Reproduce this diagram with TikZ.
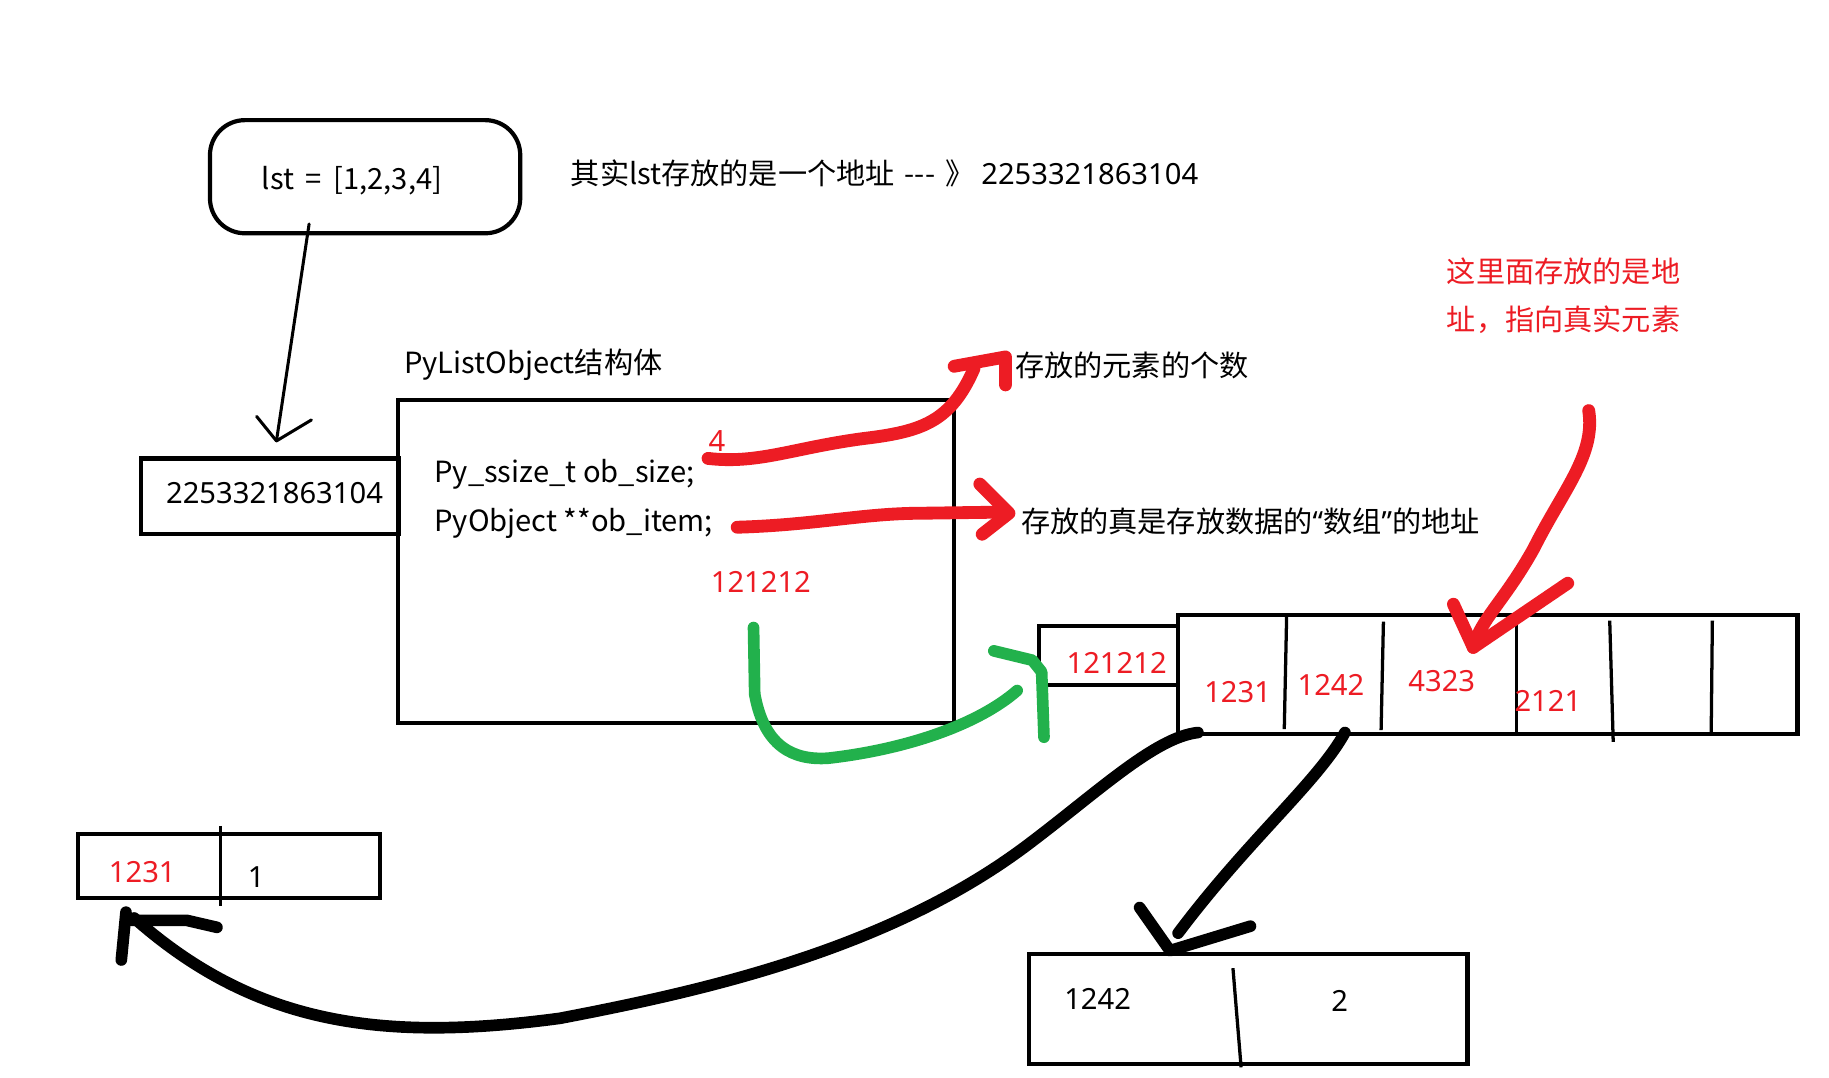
\documentclass[tikz,border=0pt]{standalone}
\usepackage{fontspec}
\setmainfont{Noto Sans CJK SC}
\newfontfamily\latf{Noto Sans}
\definecolor{pred}{HTML}{ED1C24}
\definecolor{pgreen}{HTML}{22B14C}
\begin{document}
\begin{tikzpicture}[x=0.5pt,y=-0.5pt,
  boxw/.style={draw, line width=1.8pt, inner sep=0pt},
  txt/.style={anchor=west, inner sep=0pt, font=\fontsize{12.5pt}{15pt}\selectfont},
  rtxt/.style={txt, text=pred},
  num/.style={txt, font=\fontsize{12.5pt}{15pt}\selectfont\latf},
  rnum/.style={num, text=pred},
  thin/.style={line width=1.3pt, line cap=round, line join=round},
  divider/.style={line width=1.4pt},
  redstroke/.style={draw=pred, line width=5.5pt, line cap=round, line join=round},
  greenstroke/.style={draw=pgreen, line width=5pt, line cap=round, line join=round},
  blackstroke/.style={draw=black, line width=5pt, line cap=round, line join=round}]
\useasboundingbox (0,0) rectangle (1568,924);
\fill[white] (0,0) rectangle (1568,924);

% boxes
\node[boxw, rounded corners=15pt, minimum width=133pt, minimum height=48.5pt] (lstbox) at (313,151.5) {};
\node[boxw, minimum width=110.5pt, minimum height=32.5pt] (ptrbox) at (231.5,425.5) {};
\node[boxw, minimum width=238.5pt, minimum height=138.5pt] (listobj) at (579.5,481.5) {};
\node[boxw, minimum width=59.5pt, minimum height=25pt] (itembox) at (950.5,562) {};
\node[boxw, minimum width=265.5pt, minimum height=51pt] (arr) at (1275.5,578) {};
\node[boxw, minimum width=129.5pt, minimum height=27.5pt] (elem1) at (196.5,742.5) {};
\node[boxw, minimum width=188pt, minimum height=47pt] (elem2) at (1070,865) {};

% dividers
\draw[divider] (1103,529) -- (1101,625);
\draw[divider] (1186,533) -- (1184,626);
\draw[divider] (1300,529) -- (1300,629);
\draw[divider] (1380,532) -- (1383,636);
\draw[divider] (1468,532) -- (1467,628);
\draw[divider] (189,708) -- (189,777);
\draw[divider] (1057,830) -- (1064,915);

% texts
\node[txt] (lsttxt) at (224,155) {lst \hspace{2.2pt}= \hspace{2.2pt}[1,2,3,4]};
\node[txt] (note1) at (489,149) {其实lst存放的是一个地址 \hspace{1.5pt}{-}{-}{-}\hspace{1.5pt} 》\hspace{3pt}{\latf 2253321863104}};
\node[num] (ptrtxt) at (142,423) {2253321863104};
\node[txt] (title) at (346,313) {PyListObject结构体};
\node[txt] (f1) at (372,407) {Py\_ssize\_t ob\_size;};
\node[txt] (f2) at (372,449) {PyObject **ob\_item;};
\node[rnum] (four) at (607,378) {4};
\node[rnum] (addr) at (609,499) {121212};
\node[txt] (c1) at (870,313) {存放的元素的个数};
\node[txt] (c2) at (875,447) {存放的真是存放数据的{\latf “}数组{\latf ”}的地址};
\node[rtxt] (c3a) at (1240,233) {这里面存放的是地};
\node[rtxt] (c3b) at (1240,274) {址，指向真实元素};
\node[rnum] (itemtxt) at (914,568) {121212};
\node[rnum] (a1) at (1032,593) {1231};
\node[rnum] (a2) at (1112,587) {1242};
\node[rnum] (a3) at (1207,584) {4323};
\node[rnum] (a4) at (1298,601) {2121};
\node[rnum] (e1a) at (93,748) {1231};
\node[num] (e1b) at (212,752) {1};
\node[num] (e2a) at (912,856) {1242};
\node[num] (e2b) at (1141,858) {2};

% thin arrow lst -> ptr
\coordinate (t1s) at (265,192);
\coordinate (t1e) at (237,378);
\draw[thin] (t1s) -- (t1e);
\draw[thin] (220,357) -- (t1e) -- (267,360);

% red arrow 1 (ob_size)
\coordinate (r1s) at (607,393);
\coordinate (r1e) at (835,316);
\draw[redstroke] (r1s) .. controls (650,398) and (680,384) .. (740,376)
  .. controls (790,370) and (815,362) .. (r1e);
\draw[redstroke] (818,314) -- (862,306) -- (862,330);

% red arrow 2 (ob_item)
\coordinate (r2s) at (632,452);
\coordinate (r2e) at (862,439);
\draw[redstroke] (r2s) .. controls (700,450) and (740,440) .. (790,440) -- (r2e);
\draw[redstroke] (840,415) -- (865,440) -- (842,458);

% red arrow 3
\coordinate (r3s) at (1362,352);
\coordinate (r3e) at (1263,555);
\draw[redstroke] (r3s) .. controls (1368,390) and (1340,420) .. (1315,470)
  .. controls (1290,515) and (1270,530) .. (r3e);
\draw[redstroke] (1246,518) -- (r3e) -- (1344,500);

% green arrow
\coordinate (gs) at (646,538);
\coordinate (ge) at (872,592);
\draw[greenstroke] (gs) -- (647,595) .. controls (655,640) and (680,652) .. (710,650)
  .. controls (780,642) and (840,620) .. (ge);
\draw[greenstroke] (852,558) -- (885,566) -- (893,576) -- (895,632);

% black arrow 1 (1231)
\coordinate (b1s) at (1027,628);
\coordinate (b1e) at (115,787);
\draw[blackstroke] (b1s) .. controls (990,632) and (940,680) .. (880,725)
  .. controls (760,815) and (600,850) .. (480,873)
  .. controls (330,893) and (220,880) .. (b1e);
\draw[blackstroke] (108,782) -- (104,823);
\draw[blackstroke] (112,789) -- (160,789) -- (186,795);

% black arrow 2 (1242)
\coordinate (b2s) at (1153,628);
\coordinate (b2e) at (1010,800);
\draw[blackstroke] (b2s) .. controls (1130,670) and (1070,720) .. (b2e);
\draw[blackstroke] (977,778) -- (1003,815) -- (1072,794);
\end{tikzpicture}
\end{document}
